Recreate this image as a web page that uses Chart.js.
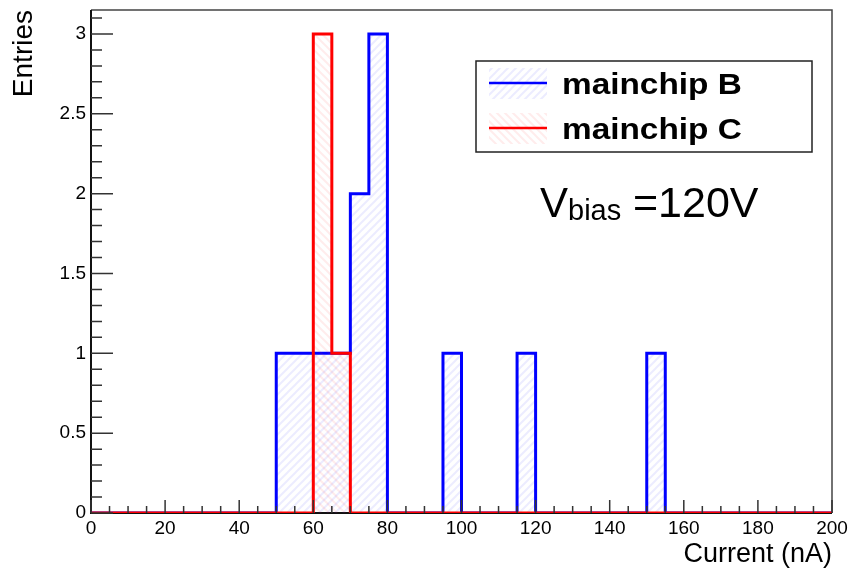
<!DOCTYPE html>
<html>
<head>
<meta charset="utf-8">
<script src="https://cdn.jsdelivr.net/npm/chart.js@4.4.1/dist/chart.umd.min.js"></script>
<style>
    body { margin: 0; background: #fff; }
    canvas { display: block; }
</style>
</head>
<body>
<canvas id="grfk" width="848" height="572"></canvas>
<script>
// histogram bins: lower edge of each 5 nA bin
const binLow = [0, 5, 10, 15, 20, 25, 30, 35, 40, 45,
                50, 55, 60, 65, 70, 75, 80, 85, 90, 95,
                100, 105, 110, 115, 120, 125, 130, 135, 140, 145,
                150, 155, 160, 165, 170, 175, 180, 185, 190, 195];
const binWidth = 5;

const countsB = [0, 0, 0, 0, 0, 0, 0, 0, 0, 0,
                 1, 1, 1, 1, 2, 3, 0, 0, 0, 1,
                 0, 0, 0, 1, 0, 0, 0, 0, 0, 0,
                 1, 0, 0, 0, 0, 0, 0, 0, 0, 0];
const countsC = [0, 0, 0, 0, 0, 0, 0, 0, 0, 0,
                 0, 0, 3, 1, 0, 0, 0, 0, 0, 0,
                 0, 0, 0, 0, 0, 0, 0, 0, 0, 0,
                 0, 0, 0, 0, 0, 0, 0, 0, 0, 0];

const seriesNames = ['mainchip B', 'mainchip C'];
const xTicks = [0, 20, 40, 60, 80, 100, 120, 140, 160, 180, 200];
const yTicks = [0, 0.5, 1, 1.5, 2, 2.5, 3];

const FONT = '"Liberation Sans", Arial, Helvetica, sans-serif';

// step outline points for a stepped line
function stepPoints(counts) {
    const pts = binLow.map((x, i) => ({ x: x, y: counts[i] }));
    pts.push({ x: binLow[binLow.length - 1] + binWidth, y: counts[counts.length - 1] });
    return pts;
}

// ROOT-like hatch fill
function hatch(color, dir) {
    const c = document.createElement('canvas');
    c.width = 8; c.height = 8;
    const g = c.getContext('2d');
    g.strokeStyle = color;
    g.lineWidth = 2;
    g.beginPath();
    if (dir > 0) {
        g.moveTo(-1, 9); g.lineTo(9, -1);
        g.moveTo(-1, 1); g.lineTo(1, -1);
        g.moveTo(7, 9); g.lineTo(9, 7);
    } else {
        g.moveTo(-1, -1); g.lineTo(9, 9);
        g.moveTo(7, -1); g.lineTo(9, 1);
        g.moveTo(-1, 7); g.lineTo(1, 9);
    }
    g.stroke();
    return g.createPattern(c, 'repeat');
}

const hatchB = hatch('rgba(40, 40, 255, 0.09)', 1);
const hatchC = hatch('rgba(255, 40, 40, 0.09)', -1);

const rootFrame = {
    id: 'rootFrame',
    beforeDatasetsDraw(chart) {
        const ctx = chart.ctx, a = chart.chartArea;
        ctx.save();
        ctx.strokeStyle = '#444';
        ctx.lineWidth = 1.5;
        ctx.beginPath();
        ctx.moveTo(a.left, a.top); ctx.lineTo(a.right, a.top); ctx.lineTo(a.right, a.bottom);
        ctx.stroke();
        ctx.strokeStyle = '#111';
        ctx.lineWidth = 2;
        ctx.beginPath();
        ctx.moveTo(a.left, a.top); ctx.lineTo(a.left, a.bottom); ctx.lineTo(a.right, a.bottom);
        ctx.stroke();
        ctx.restore();
    },
    afterDatasetsDraw(chart) {
        const ctx = chart.ctx, a = chart.chartArea;
        const xs = chart.scales.x, ys = chart.scales.y;
        ctx.save();
        ctx.strokeStyle = '#333';
        ctx.lineWidth = 1.5;
        ctx.beginPath();
        for (let v = 0; v <= 200; v += 5) {
            const px = xs.getPixelForValue(v);
            const len = v % 20 === 0 ? 13 : 7;
            ctx.moveTo(px, a.bottom); ctx.lineTo(px, a.bottom - len);
        }
        for (let k = 0; k <= 31; k++) {
            const py = ys.getPixelForValue(k / 10);
            const len = k % 5 === 0 ? 22 : 11;
            ctx.moveTo(a.left, py); ctx.lineTo(a.left + len, py);
        }
        ctx.stroke();
        ctx.restore();
    },
    afterDraw(chart) {
        const ctx = chart.ctx;
        ctx.save();
        // legend box
        ctx.fillStyle = '#fff';
        ctx.fillRect(476, 61, 336, 91);
        ctx.strokeStyle = '#222';
        ctx.lineWidth = 1.5;
        ctx.strokeRect(476, 61, 336, 91);

        const rows = [
            { y: 83, fill: hatchB, line: '#0000ff', name: seriesNames[0] },
            { y: 128, fill: hatchC, line: '#ff0000', name: seriesNames[1] }
        ];
        rows.forEach(r => {
            ctx.fillStyle = r.fill;
            ctx.fillRect(489, r.y - 15, 58, 31);
            ctx.strokeStyle = r.line;
            ctx.lineWidth = 2.5;
            ctx.beginPath();
            ctx.moveTo(489, r.y); ctx.lineTo(547, r.y);
            ctx.stroke();
            ctx.save();
            ctx.translate(562, r.y + 11);
            ctx.scale(1.15, 1);
            ctx.fillStyle = '#000';
            ctx.font = 'bold 29px ' + FONT;
            ctx.textBaseline = 'alphabetic';
            ctx.fillText(r.name, 0, 0);
            ctx.restore();
        });

        // V_bias annotation
        ctx.fillStyle = '#000';
        ctx.textBaseline = 'alphabetic';
        ctx.font = '42px ' + FONT;
        ctx.fillText('V', 540, 217);
        ctx.font = '29px ' + FONT;
        ctx.fillText('bias', 568, 220);
        ctx.font = '43px ' + FONT;
        ctx.fillText('=120V', 633, 217);
        ctx.restore();
    }
};

const ctx = document.getElementById('grfk').getContext('2d');

const grfk = new Chart(ctx, {
    type: 'line',
    data: {
        datasets: [
            {
                label: seriesNames[0],
                data: stepPoints(countsB),
                stepped: 'before',
                borderColor: '#0000ff',
                borderWidth: 3,
                backgroundColor: hatchB,
                fill: 'origin',
                pointRadius: 0,
                borderJoinStyle: 'miter',
                order: 2
            },
            {
                label: seriesNames[1],
                data: stepPoints(countsC),
                stepped: 'before',
                borderColor: '#ff0000',
                borderWidth: 3,
                backgroundColor: hatchC,
                fill: 'origin',
                pointRadius: 0,
                borderJoinStyle: 'miter',
                order: 1
            }
        ]
    },
    options: {
        responsive: false,
        animation: false,
        layout: { padding: { top: 10, right: 16, left: 0, bottom: 0 } },
        plugins: {
            legend: { display: false },
            tooltip: { enabled: false }
        },
        scales: {
            x: {
                type: 'linear',
                min: 0,
                max: 200,
                afterBuildTicks: s => { s.ticks = xTicks.map(v => ({ value: v })); },
                afterFit: s => {
                    s.height = 59;
                    s.paddingLeft = 0;
                    s.paddingRight = 0;
                },
                grid: { display: false, drawTicks: false },
                border: { display: false },
                ticks: {
                    autoSkip: false,
                    maxRotation: 0,
                    padding: 4,
                    color: '#000',
                    font: { family: FONT, size: 19 },
                    callback: v => String(v)
                },
                title: {
                    display: true,
                    text: 'Current (nA)',
                    align: 'end',
                    color: '#000',
                    font: { family: FONT, size: 27 },
                    padding: { top: 0, bottom: 1 }
                }
            },
            y: {
                min: 0,
                max: 3.15,
                afterBuildTicks: s => { s.ticks = yTicks.map(v => ({ value: v })); },
                afterFit: s => {
                    s.width = 91;
                    s.paddingTop = 0;
                    s.paddingBottom = 0;
                },
                grid: { display: false, drawTicks: false },
                border: { display: false },
                ticks: {
                    padding: 5,
                    color: '#000',
                    font: { family: FONT, size: 19 },
                    callback: v => String(v)
                },
                title: {
                    display: true,
                    text: 'Entries',
                    align: 'end',
                    color: '#000',
                    font: { family: FONT, size: 28 },
                    padding: { top: 7, bottom: 0 }
                }
            }
        }
    },
    plugins: [rootFrame]
});
</script>
</body>
</html>
